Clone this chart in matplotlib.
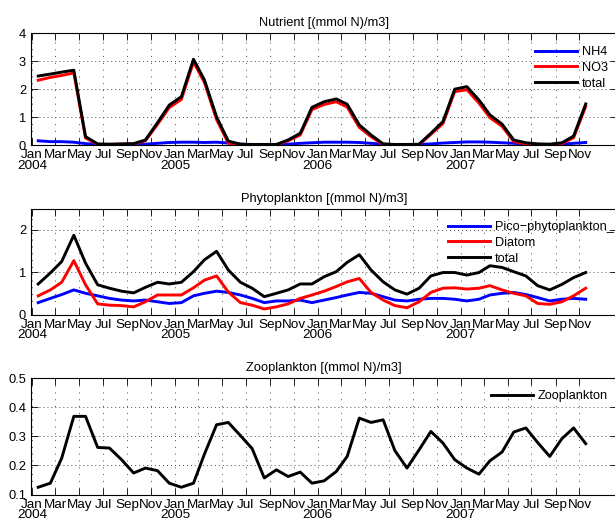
import datetime as dt
import matplotlib
matplotlib.use("Agg")
import matplotlib.pyplot as plt
import matplotlib.dates as mdates

plt.rcParams['font.family'] = ['Liberation Sans', 'DejaVu Sans']
plt.rcParams['font.size'] = 9.3

# monthly model output, Jan 2004 - Nov 2007
dates = [dt.datetime(2004 + m // 12, m % 12 + 1, 17) for m in range(47)]

nh4 = [0.15, 0.12, 0.12, 0.10, 0.05, 0.02, 0.01, 0.01, 0.01, 0.03, 0.06, 0.09,
       0.10, 0.10, 0.09, 0.10, 0.07, 0.03, 0.01, 0.01, 0.01, 0.03, 0.06, 0.08,
       0.10, 0.10, 0.10, 0.09, 0.06, 0.03, 0.01, 0.01, 0.02, 0.04, 0.07, 0.09,
       0.11, 0.11, 0.10, 0.08, 0.06, 0.04, 0.02, 0.02, 0.03, 0.06, 0.09]
no3 = [2.32, 2.42, 2.49, 2.58, 0.25, 0.02, 0.02, 0.03, 0.04, 0.15, 0.74, 1.34,
       1.63, 2.97, 2.24, 0.91, 0.07, 0.00, 0.01, 0.01, 0.01, 0.15, 0.36, 1.27,
       1.45, 1.55, 1.36, 0.63, 0.30, 0.01, 0.01, 0.01, 0.01, 0.38, 0.77, 1.91,
       1.98, 1.50, 0.98, 0.67, 0.12, 0.04, 0.02, 0.01, 0.05, 0.26, 1.38]
nut_total = [2.47, 2.54, 2.61, 2.68, 0.30, 0.04, 0.03, 0.04, 0.05, 0.18, 0.80, 1.43,
             1.73, 3.07, 2.33, 1.01, 0.14, 0.03, 0.02, 0.02, 0.02, 0.18, 0.42, 1.35,
             1.55, 1.65, 1.46, 0.72, 0.36, 0.04, 0.02, 0.02, 0.03, 0.42, 0.84, 2.00,
             2.09, 1.61, 1.08, 0.75, 0.18, 0.08, 0.04, 0.03, 0.08, 0.32, 1.47]

pico = [0.28, 0.38, 0.47, 0.58, 0.50, 0.44, 0.38, 0.34, 0.32, 0.34, 0.30, 0.26,
        0.28, 0.44, 0.50, 0.55, 0.52, 0.46, 0.38, 0.28, 0.32, 0.32, 0.34, 0.28,
        0.34, 0.40, 0.46, 0.52, 0.50, 0.42, 0.34, 0.32, 0.36, 0.38, 0.38, 0.36,
        0.32, 0.36, 0.46, 0.50, 0.52, 0.47, 0.40, 0.32, 0.36, 0.38, 0.36]
diatom = [0.44, 0.58, 0.76, 1.27, 0.70, 0.25, 0.22, 0.21, 0.18, 0.30, 0.46, 0.46,
          0.46, 0.63, 0.81, 0.91, 0.53, 0.28, 0.22, 0.13, 0.18, 0.25, 0.38, 0.46,
          0.55, 0.66, 0.77, 0.85, 0.52, 0.34, 0.21, 0.16, 0.30, 0.52, 0.62, 0.63,
          0.60, 0.62, 0.68, 0.58, 0.50, 0.44, 0.26, 0.24, 0.30, 0.44, 0.62]
phyto_total = [0.72, 0.98, 1.25, 1.87, 1.21, 0.70, 0.62, 0.55, 0.51, 0.64, 0.76, 0.72,
               0.76, 1.01, 1.29, 1.49, 1.05, 0.76, 0.62, 0.42, 0.50, 0.58, 0.72, 0.72,
               0.89, 1.01, 1.23, 1.41, 1.05, 0.77, 0.58, 0.48, 0.62, 0.91, 0.99, 0.99,
               0.93, 0.99, 1.15, 1.11, 1.01, 0.91, 0.68, 0.58, 0.71, 0.87, 0.99]

zoo = [0.125, 0.139, 0.225, 0.369, 0.369, 0.262, 0.260, 0.220, 0.174, 0.191, 0.182, 0.139,
       0.125, 0.139, 0.239, 0.340, 0.348, 0.303, 0.258, 0.157, 0.185, 0.162, 0.177, 0.139,
       0.147, 0.179, 0.231, 0.363, 0.348, 0.357, 0.251, 0.191, 0.254, 0.317, 0.277, 0.220,
       0.191, 0.170, 0.216, 0.246, 0.315, 0.329, 0.279, 0.231, 0.292, 0.329, 0.275]

# x ticks every second month
month_names = ["Jan", "Mar", "May", "Jul", "Sep", "Nov"]
tick_dates = [dt.datetime(2004 + i // 6, 2 * (i % 6) + 1, 1) for i in range(24)]
tick_labels = [month_names[i % 6] + ("\n%d" % (2004 + i // 6) if i % 6 == 0 else "")
               for i in range(24)]

W, H = 615, 521
fig = plt.figure(figsize=(W / 100, H / 100), dpi=100)


def add_panel(top, bottom):
    left, right = 31, 617
    return fig.add_axes([left / W, 1 - bottom / H, (right - left) / W, (bottom - top) / H])


def style(ax, title, yticks, ylim):
    ax.set_xlim(mdates.date2num(dt.datetime(2003, 12, 29, 12)),
                mdates.date2num(dt.datetime(2008, 2, 5)))
    ax.set_ylim(ylim)
    ax.set_yticks(yticks)
    ax.set_xticks(tick_dates)
    ax.set_xticklabels(tick_labels, fontsize=9.7)
    for lbl in ax.get_xticklabels():
        lbl.set_linespacing(0.82)
    ax.tick_params(direction='in', top=True, right=True, length=5, width=0.6)
    ax.tick_params(axis='x', pad=3)
    ax.tick_params(axis='y', pad=3.5)
    ax.grid(axis='x', color='0.3', lw=0.7, linestyle=(0, (1, 6)))
    ax.grid(axis='y', color='0.3', lw=0.7, linestyle=(0, (1, 3.1)))
    for s in ax.spines.values():
        s.set_linewidth(0.8)
    ax.set_title(title, fontsize=9.3, pad=5)


def legend(ax, px, py):
    ax.legend(loc='upper left', bbox_to_anchor=(px / W, 1 - py / H),
              bbox_transform=fig.transFigure, frameon=False, borderpad=0,
              borderaxespad=0, handlelength=3.3, handletextpad=0.35,
              labelspacing=0.3, fontsize=9.2)


lw = 2.1

# Nutrient
ax1 = add_panel(33.3, 145)
ax1.plot(dates, nh4, color='b', lw=lw, label='NH4')
ax1.plot(dates, no3, color='r', lw=lw, label='NO3')
ax1.plot(dates, nut_total, color='k', lw=lw, label='total')
style(ax1, "Nutrient [(mmol N)/m3]", [0, 1, 2, 3, 4], (0, 4))
legend(ax1, 535, 46)

# Phytoplankton
ax2 = add_panel(208.5, 314.5)
ax2.plot(dates, pico, color='b', lw=lw, label='Pico\u2212phytoplankton_')
ax2.plot(dates, diatom, color='r', lw=lw, label='Diatom')
ax2.plot(dates, phyto_total, color='k', lw=lw, label='total')
style(ax2, "Phytoplankton [(mmol N)/m3]", [0, 1, 2], (0, 2.5))
legend(ax2, 448, 221)

# Zooplankton
ax3 = add_panel(378.3, 494.5)
ax3.plot(dates, zoo, color='k', lw=lw, label='Zooplankton')
style(ax3, "Zooplankton [(mmol N)/m3]", [0.1, 0.2, 0.3, 0.4, 0.5], (0.1, 0.5))
ax3.set_yticklabels(["0.1", "0.2", "0.3", "0.4", "0.5"])
legend(ax3, 491, 390)

fig.savefig("out.png", dpi=100)
